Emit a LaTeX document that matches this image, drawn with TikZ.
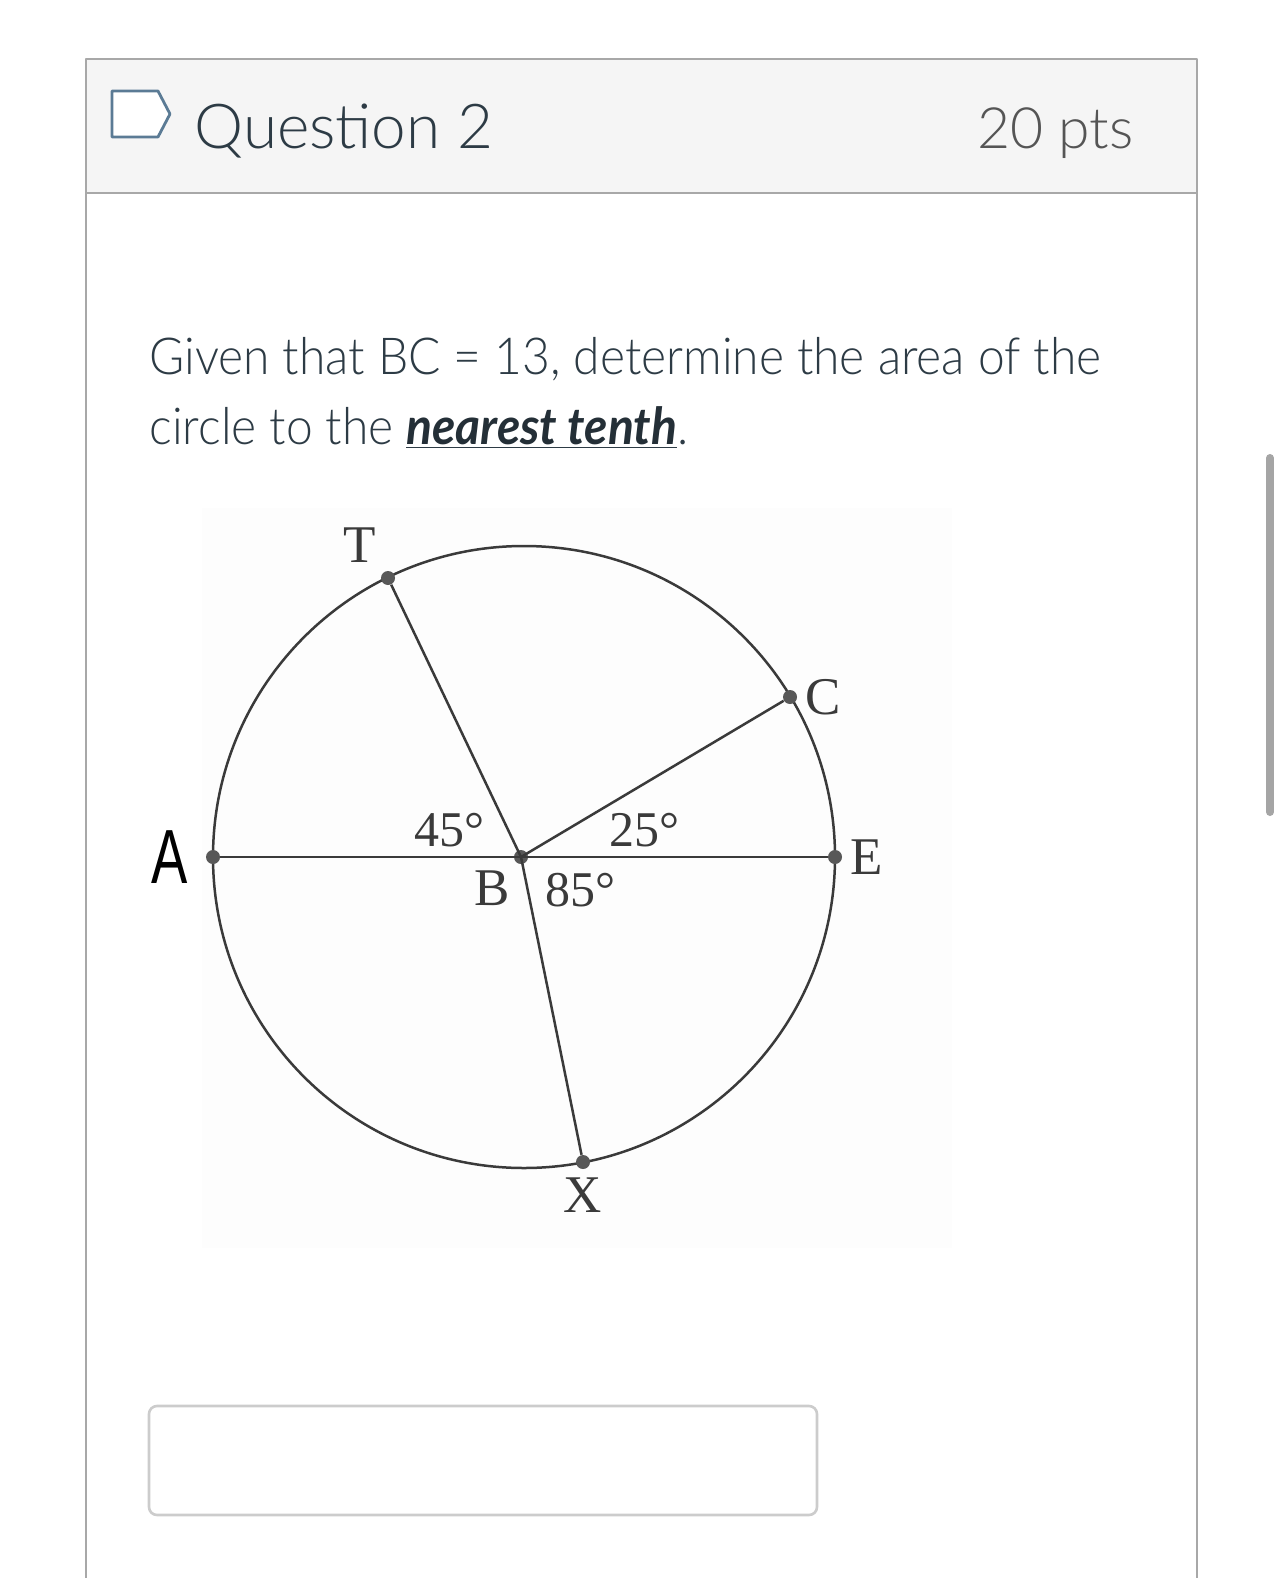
\documentclass[tikz,border=0pt]{standalone}
\usepackage{fontspec}
\setmainfont{Lato}
\newfontfamily\lightfont{Lato Light}
\newfontfamily\figfont{Liberation Serif}
\newfontfamily\handfont{Liberation Sans}
\usetikzlibrary{positioning}

\definecolor{ink}{HTML}{2D3B45}
\definecolor{ptsgray}{HTML}{555555}
\definecolor{cardline}{HTML}{A8A8A8}
\definecolor{headfill}{HTML}{F5F5F5}
\definecolor{iconblue}{HTML}{5B7B95}
\definecolor{figink}{HTML}{3A3A3A}
\definecolor{boxline}{HTML}{CCCCCC}
\definecolor{barfill}{HTML}{A5A5A5}

\tikzset{
  dot/.style={circle,fill=figink!85,inner sep=0pt,minimum size=7pt},
  ptlabel/.style={text=figink,font=\figfont\fontsize{26.5}{26.5}\selectfont,inner sep=1pt},
  anglabel/.style={text=figink,font=\figfont\fontsize{25}{25}\selectfont,inner sep=0pt},
  bodytext/.style={text=ink,font=\lightfont\fontsize{25.5}{25.5}\selectfont,anchor=base west,
                   inner sep=0pt,xscale=0.94,transform shape},
  headtext/.style={text=ink,font=\lightfont\fontsize{31}{31}\selectfont,anchor=base west,inner sep=0pt}
}

\begin{document}
\begin{tikzpicture}[x=0.5pt,y=-0.5pt,line join=round]
  \useasboundingbox (0,0) rectangle (1284,1578);
  \fill[white] (0,0) rectangle (1284,1578);

  % card and header
  \fill[headfill] (86,59) rectangle (1197,193);
  \draw[cardline,line width=1.4pt] (86,1600) -- (86,59) -- (1197,59) -- (1197,1600);
  \draw[cardline,line width=1.4pt] (86,193) -- (1197,193);
  \filldraw[fill=white,draw=iconblue,line width=1.4pt]
    (112,91) -- (158,91) -- (170,114) -- (158,137) -- (112,137) -- cycle;
  \node[headtext] (qtitle) at (194,149) {Question 2};
  \node[headtext,text=ptsgray,font=\lightfont\fontsize{28.5}{28.5}\selectfont,anchor=base east]
    (qpts) at (1134,149) {20 pts};

  % question text
  \node[bodytext] (line1) at (149,374) {Given that BC = 13, determine the area of the};
  \node[bodytext] (line2) at (149,444)
    {circle to the \underline{\textcolor{ink!80!black}{\normalfont\textbf{\textit{nearest tenth}}}}.};

  % figure
  \fill[white!98!black,opacity=0.3] (202,508) rectangle (952,1248);
  \draw[figink,line width=1.25pt] (524,857) circle[radius=155.5pt];

  \node[dot] (A) at (213,857) {};
  \node[dot] (B) at (521,857) {};
  \node[dot] (E) at (835,857) {};
  \node[dot] (T) at (388,578) {};
  \node[dot] (C) at (790,697) {};
  \node[dot] (X) at (583,1162) {};

  \draw[figink,line width=1.25pt] (A) -- (E);
  \draw[figink,line width=1.25pt] (B.center) -- (T);
  \draw[figink,line width=1.25pt] (B.center) -- (C);
  \draw[figink,line width=1.25pt] (B.center) -- (X);

  \node[ptlabel,above left=4pt and 2pt of T] {T};
  \node[ptlabel,right=3pt of C] {C};
  \node[ptlabel,right=3pt of E] {E};
  \node[ptlabel,below=3pt of X] {X};
  \node[ptlabel,below left=3pt and 2pt of B] {B};
  \node[text=black,font=\handfont\fontsize{32}{32}\selectfont,yscale=1.2,xscale=0.85,
        transform shape,left=6pt of A] {A};

  \node[anglabel] (a45) at (449,830) {45°};
  \node[anglabel] (a25) at (644,830) {25°};
  \node[anglabel] (a85) at (580,890) {85°};

  % answer box
  \draw[boxline,line width=1.3pt,rounded corners=4pt] (149,1406) rectangle (817,1515);

  % scroll bar
  \draw[barfill,line width=4pt,line cap=round] (1270,458) -- (1270,812);
\end{tikzpicture}
\end{document}
